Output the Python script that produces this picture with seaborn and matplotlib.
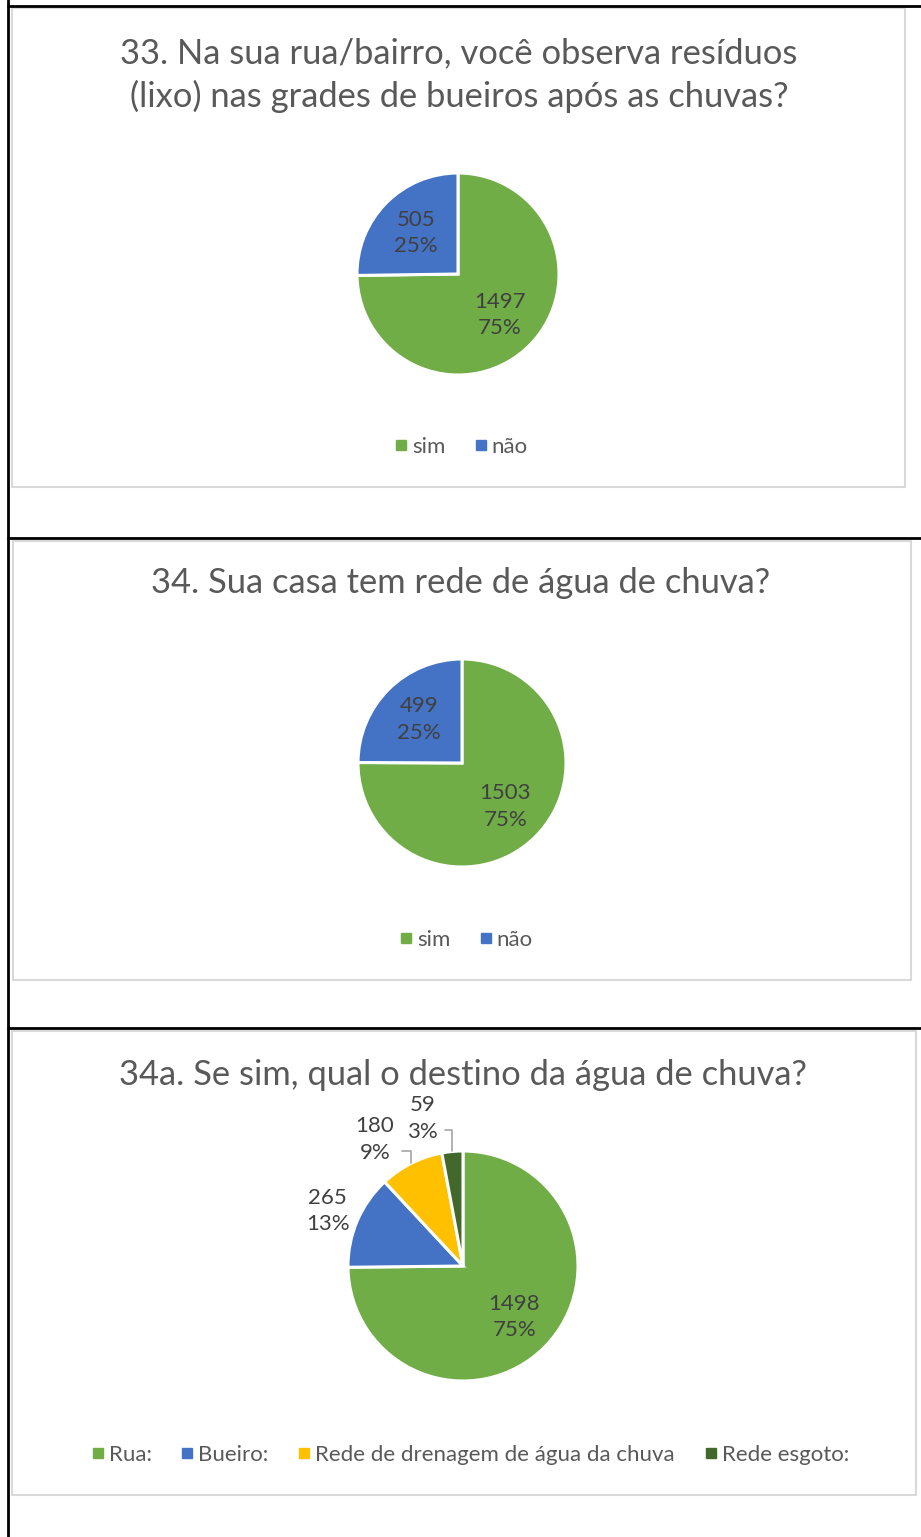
import numpy as np
import matplotlib.pyplot as plt
import seaborn as sns
from matplotlib.lines import Line2D
from matplotlib.patches import Rectangle

# survey answers
q33_title = "33. Na sua rua/bairro, você observa resíduos\n(lixo) nas grades de bueiros após as chuvas?"
q33_labels = ["sim", "não"]
q33_values = [1497, 505]

q34_title = "34. Sua casa tem rede de água de chuva?"
q34_labels = ["sim", "não"]
q34_values = [1503, 499]

q34a_title = "34a. Se sim, qual o destino da água de chuva?"
q34a_labels = ["Rua:", "Bueiro:", "Rede de drenagem de água da chuva", "Rede esgoto:"]
q34a_values = [1498, 265, 180, 59]

palette = sns.color_palette(["#70AD47", "#4472C4", "#FFC000", "#43682B"])

sns.set_theme(style="white")
plt.rcParams['font.family'] = ['Lato', 'DejaVu Sans']

W, H = 921, 1537
TITLE_C = "#595959"
LABEL_C = "#404040"
TITLE_FS = 24.8
LABEL_FS = 16
LEG_FS = 16

fig = plt.figure(figsize=(W / 100, H / 100), dpi=100)


def fx(px):
    return px / W


def fy(py):
    return 1 - py / H


# table borders
for xs, ys in [([8, 8], [0, H]), ([8, W], [6, 6]), ([8, W], [538, 538]), ([8, W], [1028, 1028])]:
    fig.add_artist(Line2D([fx(x) for x in xs], [fy(y) for y in ys], color="black", lw=2,
                          transform=fig.transFigure))

# chart area frames
for x0, y0, x1, y1 in [(12, 8, 905, 487), (13, 541, 911, 980), (12, 1031, 916, 1495)]:
    fig.add_artist(Rectangle((fx(x0), fy(y1)), (x1 - x0) / W, (y1 - y0) / H, fill=False,
                             ec="#D9D9D9", lw=1.5, transform=fig.transFigure))


def draw_pie(values, cx, cy, r, inside_dist, outside=None):
    ax = fig.add_axes([fx(cx - r), fy(cy + r), 2 * r / W, 2 * r / H])
    total = sum(values)
    ax.pie(values, colors=palette[:len(values)], startangle=90, counterclock=False,
           wedgeprops=dict(edgecolor="white", linewidth=2.2))
    ax.set_xlim(-1, 1)
    ax.set_ylim(-1, 1)
    ax.axis("off")
    cum = np.cumsum(values) - np.array(values) / 2
    for i, v in enumerate(values):
        pct = round(100 * v / total)
        txt = f"{v}\n{pct}%"
        mid = np.deg2rad(90 - 360 * cum[i] / total)
        kw = dict(ha="center", va="center", fontsize=LABEL_FS, color=LABEL_C, linespacing=1.4)
        if outside is not None and outside[i] is not None:
            d, shift, leader = outside[i]
            ang = mid + np.deg2rad(shift)
            pos = (d * np.cos(ang), d * np.sin(ang))
            if leader:
                ax.annotate(txt, xy=(np.cos(mid), np.sin(mid)), xytext=pos,
                            arrowprops=dict(arrowstyle="-", color="#A6A6A6", lw=1.2,
                                            relpos=(1, 0.25), shrinkA=3, shrinkB=0,
                                            connectionstyle="angle,angleA=0,angleB=90,rad=0"),
                            **kw)
            else:
                ax.text(*pos, txt, **kw)
        else:
            ax.text(inside_dist * np.cos(mid), inside_dist * np.sin(mid), txt, **kw)
    return ax


def add_legend(labels, cx, cy):
    handles = [Line2D([], [], marker="s", ls="", color=palette[i], markersize=6.5)
               for i in range(len(labels))]
    fig.legend(handles, labels, loc="center", bbox_to_anchor=(fx(cx), fy(cy)),
               ncol=len(labels), frameon=False, fontsize=LEG_FS, labelcolor=TITLE_C,
               handlelength=0.6, handletextpad=0.2, columnspacing=1.3)


# 33
fig.text(fx(459), fy(75), q33_title, ha="center", va="center", fontsize=TITLE_FS,
         color=TITLE_C, linespacing=1.38)
draw_pie(q33_values, 458, 274, 101, 0.58)
add_legend(q33_labels, 461, 447)

# 34
fig.text(fx(461), fy(583), q34_title, ha="center", va="center", fontsize=TITLE_FS, color=TITLE_C)
draw_pie(q34_values, 462, 763, 104, 0.59)
add_legend(q34_labels, 466, 940)

# 34a
fig.text(fx(463), fy(1075), q34a_title, ha="center", va="center", fontsize=TITLE_FS, color=TITLE_C)
draw_pie(q34a_values, 463, 1266, 115, 0.63,
         outside=[None, (1.27, 1, False), (1.34, 8, True), (1.33, 10, True)])
add_legend(q34a_labels, 470, 1455)

fig.savefig("out.png", dpi=100, facecolor="white")
